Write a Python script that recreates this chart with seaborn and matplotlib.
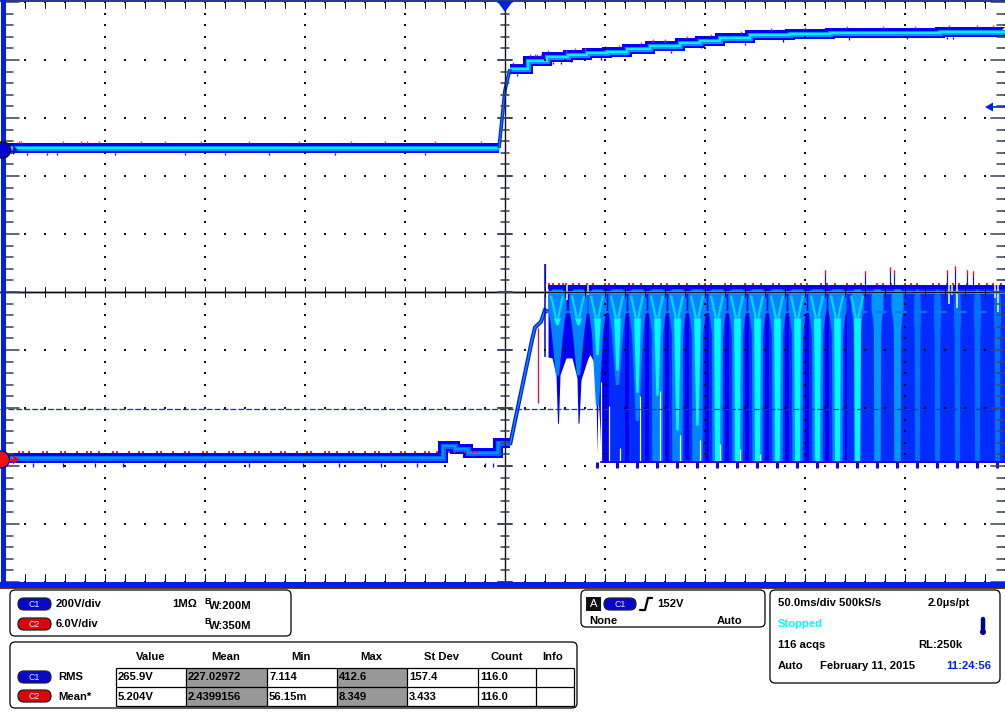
import numpy as np
import pandas as pd
import matplotlib
matplotlib.use("Agg")
import matplotlib.pyplot as plt
from matplotlib.patches import FancyBboxPatch, Rectangle, Circle, Polygon
import seaborn as sns

# time in ms from the trigger, levels in channel volts
c1_flat_t = [-252.5, -3]
c1_flat_v = [0, 0]
c1_rise_t = [-3, 0, 2.5]
c1_rise_v = [0, 200, 272]
c1_step_t = [2.5, 11.5, 21, 31.5, 41, 51, 61, 72.5, 87.5, 97.5, 107.5, 122.5, 142.5, 162.5, 187.5, 217.5, 250]
c1_step_v = [272, 300, 314, 321, 328, 331, 341, 350, 362, 369, 379, 390, 393, 397, 398, 400, 403]
c1_up_t = [-243, -242, -221, -212, -209, -203, -182, -170, -152, -128, -103, -77, -60, -35, -12, 4, 12.5, 15, 16, 18, 21.5, 30.5, 35, 40, 50, 57, 68, 74, 80, 91,
           103, 118, 133, 150, 171, 189, 205, 222, 236, 244]
c1_down_t = [-239, -229, -224, -195, -160, -140, -118, -85, -40, 6, 24, 28, 33, 48, 62, 83, 98, 120, 139, 172, 201, 221, 224]

c2_step_t = [-252.5, -31, -25, -18.5, -3.5, 2.5]
c2_step_v = [0.1, 1.35, 0.98, 0.57, 1.7, 1.7]
c2_rise_t = [2.5, 13.5, 15, 18, 20, 21.5]
c2_rise_v = [1.45, 12.3, 13.6, 14.2, 15.4, 15.2]
c2_red_t = [-243, -241, -238, -231, -229, -222, -220, -214, -209, -207, -203, -196, -194, -188, -183, -181, -174, -172, -166, -160,
            -158, -151, -149, -145, -138, -136, -130, -125, -123, -117, -112, -110, -104, -99, -97, -90, -88, -84, -78, -76,
            -70, -65, -63, -57, -52, -50, -45, -40, -38, -34, -28, -25, -20, -16, -14]
c2_low_t = [-236, -221, -205, -191, -170, -150, -128, -101, -83, -62, -44, -10, -6]

# switching burst
pulse_t = [26, 36.5, 46, 56, 66, 76, 86, 96, 106, 116, 126, 136, 146, 156, 166, 176, 186, 196, 206, 216, 226, 236, 246]
pulse_mid_v = [8.7, 8.7, 5.6, 7.7, 4.0, -0.31, -0.31, -0.31, -0.31, -0.31, -0.31, -0.31, -0.31, -0.31, -0.31, -0.31,
               -0.31, -0.31, -0.31, -0.31, -0.31, -0.31, -0.31]
pulse_core_v = [13.9, 13.9, 10.8, 9.2, 6.9, 6.6, 3.0, 3.5, -0.31, -0.31, -0.31, -0.31, -0.31, -0.31, -0.31, -0.31,
                np.nan, np.nan, np.nan, np.nan, np.nan, np.nan, np.nan]
fan_low_t = [21.5, 23.5, 25.5, 26.25, 26.75, 27.5, 30.5, 33.5, 36, 36.5, 37, 38, 41.5, 42.5, 44.5, 45.5, 46, 46.5, 47.5, 48, 250]
fan_low_v = [10.55, 10.45, 8.7, 3.7, 3.7, 8.7, 10.45, 10.45, 8.4, 3.7, 3.7, 8.2, 10.45, 10.8, 10, 6.6, 0.62, 6.6, 3.0, -0.31, -0.31]
slit_t = [48, 52, 57.5, 67.5, 77.5, 87.5, 97.5, 107.5, 117.5, 127.5]
slit_v = [8.0, 5.5, 1.1, 6.5, 7.0, 2.5, 2.0, 1.5, 1.0, 0.5]
top_gap_t = [31, 41.5, 222, 223.5, 226, 245, 246.5]
top_gap_v = [16.4, 17.0, 16.0, 17.0, 15.6, 16.6, 15.2]
fan_red_t = [22, 24, 27, 29, 30.5, 34, 37, 41, 44, 50, 52, 55, 62, 64, 68, 74, 78, 81, 87, 91, 97, 100,
             103, 110, 113, 120, 124, 128, 134, 137, 145, 148, 151, 158, 161, 165, 171, 175, 178,
             186, 189, 193, 200, 203, 206, 214, 217, 221, 224, 227, 231, 237, 241, 244, 248]
fan_tall_t = [20, 160, 180, 192.5, 194.5, 221, 225, 231, 234]
fan_tall_v = [20.2, 19.5, 19.4, 19.9, 19.5, 19.5, 20.0, 19.5, 19.4]

PX = 0.72


def y_c1(v):
    return np.asarray(v, dtype=float) / 200 + 2.483


def y_c2(v):
    return np.asarray(v, dtype=float) / 6 - 2.879


def draw_band(ax, t, y, widths, colors, z, **kws):
    for w, col, i in zip(widths, colors, range(len(widths))):
        sns.lineplot(x=t, y=y, ax=ax, estimator=None, sort=False, color=col, linewidth=w * PX,
                     legend=False, zorder=z + i * 0.01, solid_capstyle="butt", solid_joinstyle="miter", **kws)


sns.set_theme(style="white")
plt.rcParams["font.family"] = ["Liberation Sans", "DejaVu Sans"]

fig = plt.figure(figsize=(10.05, 7.14), dpi=100, facecolor="white")
ax = fig.add_axes([0, 1 - 585 / 714, 1, 585 / 714])
ax.set_xlim(-252.5, 250)
ax.set_ylim(-5.052, 5.034)
ax.set_xticks([])
ax.set_yticks([])
for s in ax.spines.values():
    s.set_visible(False)

# C2 burst, layered from darkest to brightest
top = y_c2(18.0)
ax.fill_between(fan_low_t, y_c2(fan_low_v), top, color="#0000f5", lw=0, zorder=2)
for i, t in enumerate(pulse_t):
    hw = 4.0 if t < 170 else 4.8
    if i > 2:
        ax.fill_between([t - hw, t + hw], y_c2(-0.31), y_c2(17.7), color="#002cff", lw=0, zorder=2.1)
for i, t in enumerate(pulse_t):
    bottom = pulse_mid_v[i]
    ys = y_c2([17.6, 17.0, 15.5, 14.6, 13.0, bottom])
    deep = bottom < 0
    if t < 170:
        hws = np.array([2.5, 4.6, 4.6, 3.8, 2.8, 2.6 if deep else 0.8])
        col = "#0084ff"
    elif t < 200:
        hws = np.array([1.5, 3.0, 3.0, 2.2, 1.8, 1.6])
        col = "#0098ff"
    else:
        hws = np.array([0.5, 1.5, 1.8, 1.8, 1.4, 1.2])
        col = "#0070ff"
    ax.fill_betweenx(ys, t - hws, t + hws, color=col, lw=0, zorder=2.3)
    core = pulse_core_v[i]
    if not np.isnan(core):
        core_hw = np.array([1.7, 1.2 if core < 0 else 0.6])
        ax.fill_betweenx(y_c2([14.6, core]), t - core_hw, t + core_hw, color="#00f8ff", lw=0, zorder=2.5)
        for side in (-1, 1):
            ax.plot([t + side * 3.0, t + side * 0.6], y_c2([16.9, 14.6]), color="#00d8ff", lw=2.2 * PX, zorder=2.5, solid_capstyle="butt")
ax.plot([22, 160], y_c2([15.2, 15.2]), color="#0078ff", lw=2 * PX, zorder=2.2)
for t in [168, 178, 188, 198, 208, 218, 228, 238]:
    ax.plot([t - 2.5, t + 2.5], y_c2([15.2, 15.2]), color="#0078ff", lw=2 * PX, zorder=2.4)
ax.fill_between([21.5, 250], y_c2(17.6), y_c2(18.0), color="#0000ff", lw=0, zorder=2.6)

# white slits and notches that the envelope leaves open
ax.vlines(slit_t, y_c2(-1.5), y_c2(slit_v), color="white", lw=1.2 * PX, zorder=2.7)
ax.vlines(top_gap_t, y_c2(top_gap_v), y_c2(18.6), color="white", lw=1.5 * PX, zorder=2.7)

# pulse tips below the envelope, spikes above
ax.plot([48, 250], y_c2([-0.31, -0.31]), color="#2000e0", lw=2 * PX, zorder=2.8)
ax.vlines(pulse_t[2:], y_c2(-0.31), y_c2(-0.95), color="#2000e8", lw=3 * PX, zorder=2.8)
ax.vlines(fan_red_t, y_c2(18.0), y_c2(18.22), color="#f01030", lw=1.8 * PX, zorder=2.8)
ax.vlines(fan_tall_t, y_c2(18.0), y_c2(fan_tall_v), color="#1010f0", lw=1.2 * PX, zorder=2.8)
ax.vlines(fan_tall_t, y_c2(np.array(fan_tall_v) - 0.5), y_c2(fan_tall_v), color="#f01030", lw=1.2 * PX, zorder=2.85)

# C2 trace before the burst
draw_band(ax, c2_step_t, y_c2(c2_step_v), [10, 5, 1.5], ["#0000ff", "#0068ff", "#00a0ff"], 3, drawstyle="steps-post")
draw_band(ax, c2_rise_t, y_c2(c2_rise_v), [4, 1.5], ["#0018f0", "#0090ff"], 3.1)
ax.vlines(c2_red_t, y_c2(0.62), y_c2(0.82), color="#e81030", lw=1.8 * PX, zorder=3.2)
ax.vlines(c2_low_t, y_c2(-0.4), y_c2(-0.8), color="#1000e0", lw=1.2 * PX, zorder=3.2)
ax.vlines([16.5], y_c2(5.8), y_c2(13.5), color="#d81848", lw=1.4 * PX, zorder=3.2)
ax.vlines([20], y_c2(10.55), y_c2(20.2), color="#0808e8", lw=1.6 * PX, zorder=3.2)

# C1 trace
draw_band(ax, c1_flat_t, y_c1(c1_flat_v), [10, 5, 2], ["#0000ff", "#0090ff", "#00f0ff"], 4)
draw_band(ax, c1_step_t, y_c1(c1_step_v), [10, 5, 2], ["#0000ff", "#0090ff", "#00f0ff"], 4, drawstyle="steps-post")
draw_band(ax, c1_rise_t, y_c1(c1_rise_v), [3.5, 1.2], ["#0018f0", "#0090ff"], 4.1)
c1_level = np.array(c1_step_v)[np.clip(np.searchsorted(c1_step_t, c1_up_t, side="right") - 1, 0, len(c1_step_v) - 1)]
c1_level = np.where(np.array(c1_up_t) < -3, 0, c1_level)
ax.vlines(c1_up_t, y_c1(c1_level + 16), y_c1(c1_level + 24), color="#ff10d8", lw=1.3 * PX, zorder=4.2)
c1_level = np.array(c1_step_v)[np.clip(np.searchsorted(c1_step_t, c1_down_t, side="right") - 1, 0, len(c1_step_v) - 1)]
c1_level = np.where(np.array(c1_down_t) < -3, 0, c1_level)
ax.vlines(c1_down_t, y_c1(c1_level - 24), y_c1(c1_level - 16), color="#1000f0", lw=1.3 * PX, zorder=4.2)

# graticule
dot_x = np.arange(-250, 251, 10)
dot_y = np.arange(-5, 5.1, 0.2)
for row in np.arange(-5, 6):
    ax.scatter(dot_x, np.full(dot_x.shape, row), s=0.9, c="#101010", marker="s", lw=0, zorder=6)
for col in np.arange(-250, 251, 50):
    ax.scatter(np.full(dot_y.shape, col), dot_y, s=0.9, c="#101010", marker="s", lw=0, zorder=6)
ax.axhline(0, color="#909cb0", lw=2.6 * PX, zorder=6)
ax.axhline(0, color="#101018", lw=1.2 * PX, zorder=6.1)
ax.axvline(0, color="#101018", lw=1.4 * PX, zorder=6.1)
for x in dot_x:
    ax.plot([x, x], [-0.08, 0.08], color="#101018", lw=1 * PX, zorder=6.1)
    ax.plot([x, x], [4.89, 5.034], color="#101018", lw=1 * PX, zorder=6.1)
    ax.plot([x, x], [-5.0, -4.86], color="#101018", lw=1 * PX, zorder=6.1)
for y in dot_y:
    major = abs(y - round(y)) < 1e-6
    hw = 3.6 if major else 1.9
    ax.plot([-hw, hw], [y, y], color="#404858", lw=(2 if major else 1.6) * PX, zorder=6.1)
    ax.plot([-250, -250 + 2 * hw], [y, y], color="#404858", lw=1.6 * PX, zorder=6.1)
    ax.plot([250 - 2 * hw, 250], [y, y], color="#404858", lw=1.6 * PX, zorder=6.1)

# cursor at the C2 measured value
ax.plot([-252.5, 250], y_c2([5.2, 5.2]), color="#0c3cb8", lw=1.3 * PX, ls=(0, (4.5, 1.6)), zorder=5)

# everything outside the plot in screen pixels
ov = fig.add_axes([0, 0, 1, 1], facecolor="none")
ov.set_xlim(0, 1005)
ov.set_ylim(714, 0)
ov.axis("off")

ov.add_patch(Rectangle((0, 0), 1005, 2, fc="#2a3a90", lw=0, zorder=3))
ov.add_patch(Rectangle((1, 0), 4.5, 584, fc="#0020e8", lw=0, zorder=3))
ov.add_patch(Rectangle((0, 582), 1005, 5.5, fc="#0020e8", lw=0, zorder=3))
ov.add_patch(Rectangle((0, 587.5), 1005, 1.6, fc="#5c4020", lw=0, zorder=3))

ov.add_patch(Polygon([(497, 1), (513, 1), (505, 12)], fc="#0020e0", lw=0, zorder=4))
ov.add_patch(Polygon([(985, 107), (993, 102.5), (993, 111.5)], fc="#0020e8", lw=0, zorder=4))
ov.plot([992, 1005], [107, 107], color="#0020e8", lw=1.6 * PX, zorder=4)
ov.add_patch(Circle((2.5, 150), 8, fc="#0000d8", ec="#101030", lw=1.2, zorder=4))
ov.add_patch(Polygon([(13, 145), (18, 150), (13, 155)], fc="#0010c0", lw=0, zorder=4))
ov.add_patch(Circle((1, 459.5), 8.5, fc="#f01010", ec="#0000c0", lw=1, zorder=4))
ov.add_patch(Polygon([(13, 454.5), (19, 459.5), (13, 464.5)], fc="#e01010", lw=0, zorder=4))
ov.plot([8, 14], [459.5, 459.5], color="#e01010", lw=1.4 * PX, zorder=4)


def panel(x0, y0, x1, y1):
    ov.add_patch(FancyBboxPatch((x0, y0), x1 - x0, y1 - y0, boxstyle="round,pad=0,rounding_size=5",
                                fc="white", ec="black", lw=0.9, mutation_aspect=1, zorder=2))


def pill(x, y, label, red=False, w=33):
    fc = "#d80808" if red else "#0808cc"
    ov.add_patch(FancyBboxPatch((x, y), w, 12, boxstyle="round,pad=0,rounding_size=6",
                                fc=fc, ec="#202028", lw=0.9, zorder=3))
    ov.text(x + w / 2, y + 6.3, label, color="#e8e8ff", fontsize=6.3, ha="center", va="center", zorder=4)


def label(x, y, s, color="black", ha="left", size=8.1):
    ov.text(x, y, s, color=color, fontsize=size, fontweight="bold", ha=ha, va="center", zorder=4)


panel(10, 590, 291, 636)
pill(18, 598, "C1")
pill(18, 618, "C2", red=True)
label(56, 604, "200V/div")
label(56, 624, "6.0V/div")
label(172, 604, "1MΩ")
label(204, 602, "B", size=6.5)
label(209, 606, "W:200M")
label(204, 622, "B", size=6.5)
label(209, 626, "W:350M")

panel(10, 642, 577, 708)
table_x = [116, 186, 267, 337, 407, 478, 536, 574]
for a, b in ((186, 267), (337, 407)):
    ov.add_patch(Rectangle((a, 668), b - a, 38, fc="#999999", lw=0, zorder=3))
ov.hlines([668, 687, 706], 116, 574, color="black", lw=0.9, zorder=4)
ov.vlines(table_x, 668, 706, color="black", lw=0.9, zorder=4)
headers = ["Value", "Mean", "Min", "Max", "St Dev", "Count", "Info"]
row_c1 = ["265.9V", "227.02972", "7.114", "412.6", "157.4", "116.0", ""]
row_c2 = ["5.204V", "2.4399156", "56.15m", "8.349", "3.433", "116.0", ""]
header_x = [151, 226, 301, 371, 441, 507, 553]
for i, h in enumerate(headers):
    label(header_x[i], 657, h, ha="center")
    label(table_x[i] + 2, 677.5, row_c1[i])
    label(table_x[i] + 2, 696.5, row_c2[i])
pill(18, 671, "C1")
pill(18, 690, "C2", red=True)
label(58, 677.5, "RMS")
label(58, 696.5, "Mean*")

panel(581, 590, 765, 627)
ov.add_patch(Rectangle((586, 597), 15, 14, fc="#101010", lw=0, zorder=3))
ov.text(593.5, 604, "A", color="white", fontsize=8, ha="center", va="center", zorder=4)
pill(604, 598, "C1", w=32)
ov.plot([640, 645, 648, 652], [610, 610, 598, 598], color="black", lw=1.6, zorder=4)
label(657, 604, "152V")
label(589, 620.5, "None")
label(717, 620.5, "Auto")

panel(770, 590, 1000, 683)
label(778, 603, "50.0ms/div 500kS/s")
label(928, 603, "2.0µs/pt")
label(778, 624, "Stopped", color="#00ffff")
label(778, 645, "116 acqs")
label(918, 645, "RL:250k")
label(778, 666, "Auto")
label(820, 666, "February 11, 2015")
label(946, 666, "11:24:56", color="#0020f0")
ov.plot([983, 983], [619, 630], color="#000090", lw=3.2, solid_capstyle="round", zorder=4)
ov.add_patch(Circle((983, 632), 3, fc="#000090", lw=0, zorder=4))

fig.savefig("out.png", dpi=100)
